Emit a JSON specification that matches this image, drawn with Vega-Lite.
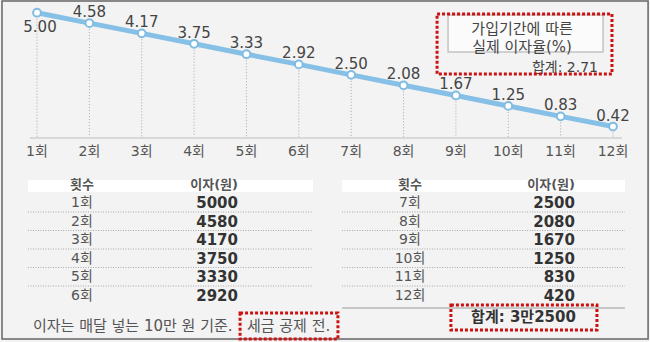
{
  "$schema": "https://vega.github.io/schema/vega-lite/v6.json",
  "width": 650,
  "height": 342,
  "autosize": {"type": "fit", "contains": "padding"},
  "padding": 0,
  "background": "#f3f3f3",
  "config": {"view": {"stroke": null}, "font": "DejaVu Sans, Noto Sans CJK KR", "text": {"font": "DejaVu Sans, Noto Sans CJK KR"}},
  "data": {"values": [
    {"n": 1, "회": "1회", "rate": 5.00, "interest": 5000},
    {"n": 2, "회": "2회", "rate": 4.58, "interest": 4580},
    {"n": 3, "회": "3회", "rate": 4.17, "interest": 4170},
    {"n": 4, "회": "4회", "rate": 3.75, "interest": 3750},
    {"n": 5, "회": "5회", "rate": 3.33, "interest": 3330},
    {"n": 6, "회": "6회", "rate": 2.92, "interest": 2920},
    {"n": 7, "회": "7회", "rate": 2.50, "interest": 2500},
    {"n": 8, "회": "8회", "rate": 2.08, "interest": 2080},
    {"n": 9, "회": "9회", "rate": 1.67, "interest": 1670},
    {"n": 10, "회": "10회", "rate": 1.25, "interest": 1250},
    {"n": 11, "회": "11회", "rate": 0.83, "interest": 830},
    {"n": 12, "회": "12회", "rate": 0.42, "interest": 420}
  ]},
  "resolve": {"scale": {"x": "independent", "y": "independent"}},
  "layer": [
    {
      "encoding": {
        "x": {"field": "n", "type": "quantitative", "scale": {"domain": [1, 12], "range": [37, 613], "zero": false, "nice": false}, "axis": null},
        "y": {"field": "rate", "type": "quantitative", "scale": {"domain": [0, 5], "range": [137, 12.7], "zero": false, "nice": false}, "axis": null}
      },
      "layer": [
        {
          "transform": [{"filter": "datum.n == 1"}],
          "mark": {"type": "rect", "fill": "transparent", "stroke": "#666666", "strokeWidth": 1.5},
          "encoding": {
            "x": {"datum": 0.3316, "type": "quantitative"}, "x2": {"datum": 12.67},
            "y": {"datum": 5.471, "type": "quantitative"}, "y2": {"datum": -8.125}
          }
        },
        {
          "transform": [{"filter": "datum.n == 1"}],
          "mark": {"type": "rule", "color": "#bdbdbd", "strokeWidth": 1, "yOffset": 1},
          "encoding": {
            "x": {"datum": 0.866, "type": "quantitative"}, "x2": {"datum": 12.17},
            "y": {"datum": 0, "type": "quantitative"}
          }
        },
        {
          "mark": {"type": "rule", "color": "#a8a8a8", "strokeWidth": 1, "strokeDash": [1, 2]},
          "encoding": {"y2": {"datum": 0}}
        },
        {
          "mark": {"type": "line", "color": "#86c0e6", "strokeWidth": 5}
        },
        {
          "mark": {"type": "circle", "fill": "white", "stroke": "#7fbbe2", "strokeWidth": 2, "size": 60, "opacity": 1}
        },
        {
          "transform": [{"filter": "datum.n > 1"}],
          "mark": {"type": "text", "dy": -11, "fontSize": 15, "color": "#444444"},
          "encoding": {"text": {"field": "rate", "type": "quantitative", "format": ".2f"}}
        },
        {
          "transform": [{"filter": "datum.n == 1"}],
          "mark": {"type": "text", "dy": 14, "dx": 3, "fontSize": 15, "color": "#444444"},
          "encoding": {"text": {"field": "rate", "type": "quantitative", "format": ".2f"}}
        },
        {
          "mark": {"type": "text", "dy": 15, "fontSize": 14, "color": "#555555"},
          "encoding": {"y": {"datum": 0, "type": "quantitative"}, "text": {"field": "회", "type": "nominal"}}
        },
        {
          "transform": [{"filter": "datum.n == 1"}],
          "mark": {"type": "rect", "fill": "#fbfbfb", "stroke": "#c4c4c4", "strokeWidth": 1.5},
          "encoding": {
            "x": {"datum": 8.85, "type": "quantitative"}, "x2": {"datum": 11.81},
            "y": {"datum": 4.907, "type": "quantitative"}, "y2": {"datum": 3.419}
          }
        },
        {
          "transform": [{"filter": "datum.n == 1"}],
          "mark": {"type": "text", "fontSize": 15, "color": "#444444", "text": "가입기간에 따른"},
          "encoding": {"x": {"datum": 10.263, "type": "quantitative"}, "y": {"datum": 4.344, "type": "quantitative"}}
        },
        {
          "transform": [{"filter": "datum.n == 1"}],
          "mark": {"type": "text", "fontSize": 15, "color": "#444444", "text": "실제 이자율(%)"},
          "encoding": {"x": {"datum": 10.263, "type": "quantitative"}, "y": {"datum": 3.64, "type": "quantitative"}}
        },
        {
          "transform": [{"filter": "datum.n == 1"}],
          "mark": {"type": "text", "fontSize": 14, "color": "#444444", "align": "right", "text": "합계: 2.71"},
          "encoding": {"x": {"datum": 11.714, "type": "quantitative"}, "y": {"datum": 2.776, "type": "quantitative"}}
        },
        {
          "transform": [{"filter": "datum.n == 1"}],
          "mark": {"type": "rect", "fill": "transparent", "stroke": "#cc1111", "strokeWidth": 3, "strokeDash": [3, 2]},
          "encoding": {
            "x": {"datum": 8.64, "type": "quantitative"}, "x2": {"datum": 11.98},
            "y": {"datum": 4.948, "type": "quantitative"}, "y2": {"datum": 2.534}
          }
        }
      ]
    },
    {
      "transform": [
        {"calculate": "datum.n <= 6 ? 0 : 1", "as": "t"},
        {"calculate": "datum.n - 6 * datum.t", "as": "r"},
        {"calculate": "2 * datum.t", "as": "lx"},
        {"calculate": "2 * datum.t + 1", "as": "vx"}
      ],
      "encoding": {
        "x": {"field": "lx", "type": "quantitative", "scale": {"domain": [0, 1, 2, 3], "range": [82, 238, 410, 575], "zero": false, "nice": false}, "axis": null},
        "y": {"field": "r", "type": "quantitative", "scale": {"domain": [0, 6], "range": [184.5, 295.5], "zero": false, "nice": false}, "axis": null}
      },
      "layer": [
        {
          "transform": [{"filter": "datum.n == 1"}],
          "mark": {"type": "rect", "fill": "#ffffff"},
          "encoding": {
            "x": {"datum": -0.346, "type": "quantitative"}, "x2": {"datum": 1.436},
            "y": {"datum": -0.243, "type": "quantitative"}, "y2": {"datum": 0.405}
          }
        },
        {
          "transform": [{"filter": "datum.n == 1"}],
          "mark": {"type": "rect", "fill": "#ffffff"},
          "encoding": {
            "x": {"datum": 1.605, "type": "quantitative"}, "x2": {"datum": 3.303},
            "y": {"datum": -0.243, "type": "quantitative"}, "y2": {"datum": 0.405}
          }
        },
        {
          "transform": [{"filter": "datum.t == 0 && datum.r < 6"}],
          "mark": {"type": "rule", "color": "#a8a8a8", "strokeWidth": 1, "strokeDash": [1, 1.5], "yOffset": 9},
          "encoding": {"x": {"datum": -0.346, "type": "quantitative"}, "x2": {"datum": 1.436}}
        },
        {
          "transform": [{"filter": "datum.t == 1 && datum.r < 6"}],
          "mark": {"type": "rule", "color": "#a8a8a8", "strokeWidth": 1, "strokeDash": [1, 1.5], "yOffset": 9},
          "encoding": {"x": {"datum": 1.605, "type": "quantitative"}, "x2": {"datum": 3.303}}
        },
        {
          "transform": [{"filter": "datum.n == 1"}],
          "mark": {"type": "rule", "color": "#9a9a9a", "strokeWidth": 1},
          "encoding": {
            "x": {"datum": 1.605, "type": "quantitative"}, "x2": {"datum": 3.303},
            "y": {"datum": 6.676, "type": "quantitative"}
          }
        },
        {
          "transform": [{"filter": "datum.r == 1"}],
          "mark": {"type": "text", "fontSize": 13, "fontWeight": "bold", "color": "#555555", "text": "횟수"},
          "encoding": {"y": {"datum": 0, "type": "quantitative"}}
        },
        {
          "transform": [{"filter": "datum.r == 1"}],
          "mark": {"type": "text", "fontSize": 13, "fontWeight": "bold", "color": "#555555", "align": "right", "text": "이자(원)"},
          "encoding": {"x": {"field": "vx", "type": "quantitative"}, "y": {"datum": 0, "type": "quantitative"}}
        },
        {
          "mark": {"type": "text", "fontSize": 14, "color": "#555555"},
          "encoding": {"text": {"field": "회", "type": "nominal"}}
        },
        {
          "mark": {"type": "text", "fontSize": 15, "fontWeight": "bold", "color": "#333333", "align": "right"},
          "encoding": {"x": {"field": "vx", "type": "quantitative"}, "text": {"field": "interest", "type": "quantitative", "format": "d"}}
        },
        {
          "transform": [{"filter": "datum.n == 1"}],
          "mark": {"type": "text", "fontSize": 15, "fontWeight": "bold", "color": "#333333", "text": "합계: 3만2500"},
          "encoding": {"x": {"datum": 2.688, "type": "quantitative"}, "y": {"datum": 7.146, "type": "quantitative"}}
        },
        {
          "transform": [{"filter": "datum.n == 1"}],
          "mark": {"type": "rect", "fill": "transparent", "stroke": "#cc1111", "strokeWidth": 3, "strokeDash": [3, 2]},
          "encoding": {
            "x": {"datum": 2.248, "type": "quantitative"}, "x2": {"datum": 3.133},
            "y": {"datum": 6.514, "type": "quantitative"}, "y2": {"datum": 7.865}
          }
        },
        {
          "transform": [{"filter": "datum.n == 1"}],
          "mark": {"type": "text", "fontSize": 15, "color": "#555555", "align": "left", "text": "이자는 매달 넣는 10만 원 기준."},
          "encoding": {"x": {"datum": -0.314, "type": "quantitative"}, "y": {"datum": 7.632, "type": "quantitative"}}
        },
        {
          "transform": [{"filter": "datum.n == 1"}],
          "mark": {"type": "text", "fontSize": 15, "color": "#555555", "align": "left", "text": "세금 공제 전."},
          "encoding": {"x": {"datum": 1.052, "type": "quantitative"}, "y": {"datum": 7.632, "type": "quantitative"}}
        },
        {
          "transform": [{"filter": "datum.n == 1"}],
          "mark": {"type": "rect", "fill": "transparent", "stroke": "#cc1111", "strokeWidth": 3, "strokeDash": [3, 2]},
          "encoding": {
            "x": {"datum": 1.012, "type": "quantitative"}, "x2": {"datum": 1.581},
            "y": {"datum": 6.946, "type": "quantitative"}, "y2": {"datum": 8.35}
          }
        }
      ]
    }
  ]
}
